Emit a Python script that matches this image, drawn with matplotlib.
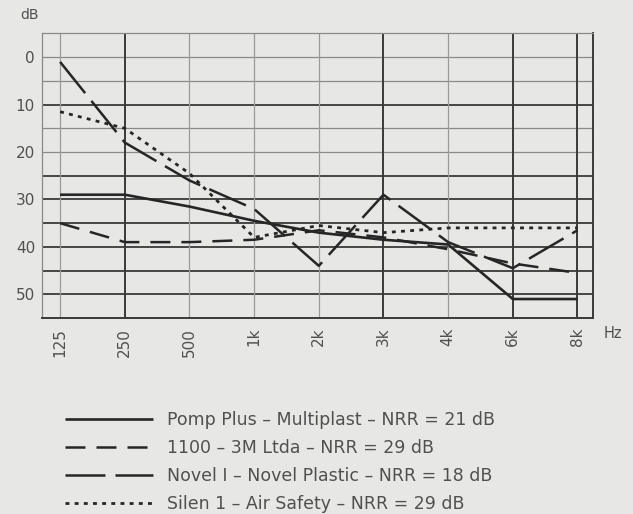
import matplotlib
matplotlib.use("Agg")
import matplotlib.pyplot as plt
import numpy as np

plt.rcParams['font.family'] = ['DejaVu Sans']

# ---- data -------------------------------------------------------------
freq_labels = ["125", "250", "500", "1k", "2k", "3k", "4k", "6k", "8k"]
pomp_plus = [29, 29, 31.5, 34.5, 37, 38.5, 39.5, 51, 51]
m3_1100 = [35, 39, 39, 38.5, 36.5, 38, 40.5, 43.5, 45.5]
novel_1 = [1, 18, 26, 32, 44, 29, 39, 44.5, 36.5]
silen_1 = [11.5, 15, 24.5, 38, 35.5, 37, 36, 36, 36]
series_labels = [
    "Pomp Plus \u2013 Multiplast \u2013 NRR = 21 dB",
    "1100 \u2013 3M Ltda \u2013 NRR = 29 dB",
    "Novel I \u2013 Novel Plastic \u2013 NRR = 18 dB",
    "Silen 1 \u2013 Air Safety \u2013 NRR = 29 dB",
]
y_tick_values = [0, 10, 20, 30, 40, 50]
y_grid_thick = [10, 25, 30, 35, 40, 45, 50]
y_grid_thin = [0, 5, 15, 20]
x_grid_thick = [1, 5, 7, 8]
x_grid_thin = [0, 2, 3, 4, 6]

# ---- style -------------------------------------------------------------
paper = '#e7e7e5'
ink = '#262626'
txt = '#505050'

fig = plt.figure(figsize=(6.33, 5.14), dpi=100, facecolor=paper)
ax = fig.add_axes([42/633, 1-318/514, (593-42)/633, (318-33)/514])
ax.set_facecolor(paper)

x = np.arange(len(freq_labels))
ax.set_xlim(-0.28, 8.24)
ax.set_ylim(55, -5.1)

for v in y_grid_thick:
    ax.axhline(v, color='#3a3a3a', lw=1.3, zorder=1)
for v in y_grid_thin:
    ax.axhline(v, color='#8a8a8a', lw=0.9, zorder=1)
for v in x_grid_thick:
    ax.axvline(v, color='#3a3a3a', lw=1.4, zorder=1)
for v in x_grid_thin:
    ax.axvline(v, color='#9a9a9a', lw=0.9, zorder=1)

l1, = ax.plot(x, pomp_plus, color=ink, lw=1.9, solid_capstyle='butt', zorder=3)
l2, = ax.plot(x, m3_1100, color=ink, lw=1.8, dashes=(8, 4.4), zorder=3)
l3, = ax.plot(x, novel_1, color=ink, lw=1.8, dashes=(16, 4), zorder=3)
l4, = ax.plot(x, silen_1, color=ink, lw=2.0, dashes=(1.4, 1.9), zorder=3)

for side in ['left', 'top']:
    ax.spines[side].set_color('#8a8a8a')
    ax.spines[side].set_linewidth(0.9)
for side in ['right', 'bottom']:
    ax.spines[side].set_color('#3a3a3a')
    ax.spines[side].set_linewidth(1.4)

ax.set_yticks(y_tick_values)
ax.set_yticklabels([str(v) for v in y_tick_values], fontsize=11, color=txt)
ax.set_xticks(x)
ax.set_xticklabels(freq_labels, rotation=90, fontsize=11, color=txt)
ax.tick_params(axis='both', length=0)
ax.tick_params(axis='y', pad=5)
ax.tick_params(axis='x', pad=7)

fig.text(20/633, 1-15/514, "dB", fontsize=10, color=txt, va='center', ha='left')
fig.text(604/633, 1-333/514, "Hz", fontsize=10.5, color=txt, va='center', ha='left')

leg = fig.legend([l1, l2, l3, l4], series_labels, loc='upper left',
                 bbox_to_anchor=(58/633, 1-404/514), frameon=False,
                 fontsize=12.5, handlelength=5.1, handletextpad=0.75,
                 labelspacing=0.57, borderaxespad=0)
for t in leg.get_texts():
    t.set_color(txt)

fig.savefig("out.png", dpi=100, facecolor=paper)
